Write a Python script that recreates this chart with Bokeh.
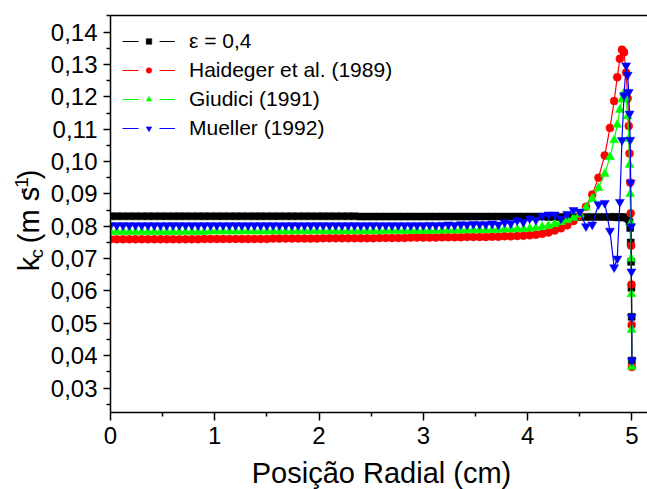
import math
from bokeh.plotting import figure
from bokeh.layouts import row, column
from bokeh.models import (FixedTicker, LinearAxis, Legend, LegendItem, Label, Range1d)
from bokeh.embed import file_html
from bokeh.resources import INLINE

FONT = "Liberation Sans"

# ---------------- data ----------------
x_cm = [0.00, 0.06, 0.12, 0.18, 0.24, 0.30, 0.36, 0.42, 0.48, 0.54,
        0.60, 0.66, 0.72, 0.78, 0.84, 0.90, 0.96, 1.02, 1.08, 1.14,
        1.20, 1.26, 1.32, 1.38, 1.44, 1.50, 1.56, 1.62, 1.68, 1.74,
        1.80, 1.86, 1.92, 1.98, 2.04, 2.10, 2.16, 2.22, 2.28, 2.34,
        2.40, 2.46, 2.52, 2.58, 2.64, 2.70, 2.76, 2.82, 2.88, 2.94,
        3.00, 3.06, 3.12, 3.18, 3.24, 3.30, 3.36, 3.42, 3.48, 3.54,
        3.60, 3.66, 3.72, 3.78, 3.84, 3.90, 3.96, 4.02, 4.08, 4.14,
        4.20, 4.26, 4.32, 4.38, 4.44, 4.50, 4.56, 4.62, 4.68,
        4.74, 4.79, 4.83, 4.86, 4.885, 4.905, 4.925, 4.945, 4.96, 4.97,
        4.978, 4.984, 4.989, 4.993, 4.996, 4.998, 5.00]

kc_eps04 = [0.0831, 0.0831, 0.0831, 0.0831, 0.0831, 0.0831, 0.0831, 0.0831, 0.0831, 0.0831,
            0.0831, 0.0831, 0.0831, 0.0831, 0.0831, 0.0831, 0.0831, 0.0831, 0.0831, 0.0831,
            0.0831, 0.0831, 0.0831, 0.0831, 0.0831, 0.0831, 0.0831, 0.0831, 0.0831, 0.0831,
            0.0831, 0.0831, 0.0831, 0.0831, 0.0831, 0.0831, 0.0831, 0.0831, 0.0831, 0.0831,
            0.0830, 0.0830, 0.0830, 0.0830, 0.0830, 0.0830, 0.0830, 0.0830, 0.0830, 0.0830,
            0.0830, 0.0830, 0.0830, 0.0830, 0.0830, 0.0830, 0.0830, 0.0830, 0.0830, 0.0830,
            0.0830, 0.0830, 0.0830, 0.0830, 0.0830, 0.0830, 0.0830, 0.0830, 0.0830, 0.0830,
            0.0829, 0.0829, 0.0829, 0.0829, 0.0829, 0.0829, 0.0829, 0.0829, 0.0829,
            0.0829, 0.0829, 0.0829, 0.0828, 0.0828, 0.0828, 0.0828, 0.0827, 0.0825, 0.0822,
            0.0812, 0.0795, 0.0750, 0.0690, 0.0610, 0.0520, 0.0385]

kc_haideger = [0.0760, 0.0760, 0.0760, 0.0760, 0.0760, 0.0760, 0.0760, 0.0760, 0.0760, 0.0760,
               0.0760, 0.0760, 0.0760, 0.0760, 0.0760, 0.0761, 0.0761, 0.0761, 0.0761, 0.0761,
               0.0761, 0.0761, 0.0761, 0.0761, 0.0761, 0.0761, 0.0762, 0.0762, 0.0762, 0.0762,
               0.0762, 0.0762, 0.0762, 0.0762, 0.0763, 0.0763, 0.0763, 0.0763, 0.0763, 0.0763,
               0.0763, 0.0763, 0.0763, 0.0764, 0.0764, 0.0764, 0.0764, 0.0764, 0.0765, 0.0765,
               0.0765, 0.0765, 0.0765, 0.0766, 0.0766, 0.0766, 0.0766, 0.0767, 0.0767, 0.0767,
               0.0767, 0.0768, 0.0768, 0.0769, 0.0769, 0.0770, 0.0771, 0.0772, 0.0774, 0.0777,
               0.0781, 0.0787, 0.0794, 0.0803, 0.0816, 0.0832, 0.0860, 0.0898, 0.0950,
               0.1019, 0.1104, 0.1187, 0.1261, 0.1318, 0.1346, 0.1338, 0.1275, 0.1195, 0.1110,
               0.1025, 0.0935, 0.0840, 0.0740, 0.0620, 0.0495, 0.0365]

kc_giudici = [0.0783, 0.0783, 0.0783, 0.0783, 0.0783, 0.0783, 0.0783, 0.0783, 0.0783, 0.0783,
              0.0783, 0.0783, 0.0783, 0.0783, 0.0783, 0.0783, 0.0784, 0.0784, 0.0784, 0.0784,
              0.0784, 0.0784, 0.0784, 0.0784, 0.0784, 0.0784, 0.0784, 0.0784, 0.0784, 0.0784,
              0.0785, 0.0785, 0.0785, 0.0785, 0.0785, 0.0785, 0.0785, 0.0785, 0.0785, 0.0785,
              0.0785, 0.0785, 0.0785, 0.0785, 0.0786, 0.0786, 0.0786, 0.0786, 0.0786, 0.0786,
              0.0786, 0.0786, 0.0786, 0.0787, 0.0787, 0.0787, 0.0787, 0.0788, 0.0788, 0.0788,
              0.0788, 0.0789, 0.0789, 0.0790, 0.0790, 0.0791, 0.0792, 0.0793, 0.0795, 0.0798,
              0.0802, 0.0807, 0.0813, 0.0819, 0.0826, 0.0836, 0.0858, 0.0885, 0.0918,
              0.0962, 0.1014, 0.1066, 0.1114, 0.1160, 0.1192, 0.1212, 0.1195, 0.1140, 0.1070,
              0.0990, 0.0900, 0.0810, 0.0700, 0.0590, 0.0480, 0.0365]

kc_mueller = [0.0803, 0.0803, 0.0803, 0.0803, 0.0803, 0.0803, 0.0803, 0.0803, 0.0803, 0.0803,
              0.0803, 0.0803, 0.0803, 0.0803, 0.0803, 0.0803, 0.0803, 0.0803, 0.0803, 0.0803,
              0.0803, 0.0803, 0.0803, 0.0803, 0.0803, 0.0803, 0.0803, 0.0803, 0.0803, 0.0803,
              0.0803, 0.0803, 0.0803, 0.0803, 0.0803, 0.0803, 0.0803, 0.0803, 0.0803, 0.0803,
              0.0803, 0.0803, 0.0803, 0.0803, 0.0803, 0.0803, 0.0803, 0.0803, 0.0803, 0.0803,
              0.0803, 0.0804, 0.0803, 0.0804, 0.0805, 0.0804, 0.0806, 0.0805, 0.0807, 0.0806,
              0.0806, 0.0808, 0.0805, 0.0812, 0.0809, 0.0818, 0.0813, 0.0824, 0.0820, 0.0832,
              0.0836, 0.0836, 0.0824, 0.0838, 0.0850, 0.0845, 0.0800, 0.0805, 0.0868,
              0.0872, 0.0786, 0.0673, 0.0700, 0.0875, 0.1066, 0.1205, 0.1297, 0.1268, 0.1215,
              0.1148, 0.1067, 0.0935, 0.0800, 0.0660, 0.0520, 0.0385]

series_names = ["\u03b5 = 0,4", "Haideger et al. (1989)", "Giudici (1991)", "Mueller (1992)"]
series_values = [kc_eps04, kc_haideger, kc_giudici, kc_mueller]

x_ticks = [0, 1, 2, 3, 4, 5]
x_minor_ticks = [0.5, 1.5, 2.5, 3.5, 4.5]
y_ticks = [0.03, 0.04, 0.05, 0.06, 0.07, 0.08, 0.09, 0.10, 0.11, 0.12, 0.13, 0.14]
y_tick_labels = ["0,03", "0,04", "0,05", "0,06", "0,07", "0,08", "0,09",
                 "0,10", "0,11", "0,12", "0,13", "0,14"]
y_minor_ticks = [0.025, 0.035, 0.045, 0.055, 0.065, 0.075, 0.085, 0.095,
                 0.105, 0.115, 0.125, 0.135, 0.145]

x_title = "Posição Radial (cm)"
y_title_parts = ["k", "c", "(m s", "-1", ")"]   # k_c (m s^-1)

# ---------------- styles ----------------
colors = ["#000000", "#ff0000", "#00ff00", "#0000ff"]
markers = ["square", "circle", "triangle", "inverted_triangle"]
sizes = [7, 8, 9, 9]

W, H = 647, 489
STRIP = 47          # left strip holding the y title
BOT = 34            # bottom strip holding the x title
HM = H - BOT        # height of main plot
X0, X1 = 0, 5.15
Y0, Y1 = 0.02244, 0.14515

p = figure(width=W - STRIP, height=HM, output_backend="svg", toolbar_location=None,
           x_range=Range1d(X0, X1), y_range=Range1d(Y0, Y1),
           min_border_left=108 - STRIP, min_border_right=0, min_border_top=15,
           min_border_bottom=HM - 412)
p.background_fill_color = "white"
p.border_fill_color = "white"
p.outline_line_color = None
p.xgrid.visible = False
p.ygrid.visible = False

items = []
for name, vals, c, m, s in zip(series_names, series_values, colors, markers, sizes):
    p.line(x_cm, vals, line_color=c, line_width=1.2)
    sr = p.scatter(x_cm, vals, marker=m, size=s, fill_color=c, line_color=c, line_width=0.5)
    # single-point line: draws nothing in the plot, gives the broken legend sample
    dummy = p.line(x_cm[:1], vals[:1], line_color=c, line_width=1.2, line_dash="16 21")
    items.append(LegendItem(label=name, renderers=[dummy, sr]))

legend = Legend(items=items, location="top_left", margin=12, padding=0,
                spacing=1, glyph_width=53, glyph_height=14, label_height=28,
                label_standoff=14, label_text_font=FONT, label_text_font_size="21px",
                label_text_color="black", background_fill_alpha=0,
                border_line_color=None)
p.add_layout(legend)

def style_axis(ax):
    ax.axis_line_width = 1.5
    ax.axis_line_color = "black"
    ax.major_tick_in = 0
    ax.major_tick_out = 8
    ax.minor_tick_in = 0
    ax.minor_tick_out = 4
    ax.major_tick_line_width = 1.5
    ax.minor_tick_line_width = 1.5
    ax.major_tick_line_color = "black"
    ax.minor_tick_line_color = "black"
    ax.major_label_text_font = FONT
    ax.major_label_text_font_size = "24px"
    ax.major_label_text_color = "black"

xa = p.xaxis[0]
style_axis(xa)
xa.ticker = FixedTicker(ticks=x_ticks, minor_ticks=x_minor_ticks)
xa.major_label_standoff = 6

ya = p.yaxis[0]
style_axis(ya)
ya.major_tick_out = 7
ya.ticker = FixedTicker(ticks=y_ticks, minor_ticks=y_minor_ticks)
ya.major_label_overrides = dict(zip(y_ticks, y_tick_labels))
ya.major_label_standoff = 6

top = LinearAxis(ticker=FixedTicker(ticks=[]), axis_line_width=1.5,
                 axis_line_color="black", major_tick_line_color=None,
                 minor_tick_line_color=None)
p.add_layout(top, "above")

def strip(width, height):
    f = figure(width=width, height=height, output_backend="svg", toolbar_location=None,
               x_range=Range1d(0, width), y_range=Range1d(0, height), min_border=0,
               x_axis_location=None, y_axis_location=None)
    f.outline_line_color = None
    f.background_fill_color = "white"
    f.border_fill_color = "white"
    f.xgrid.visible = False
    f.ygrid.visible = False
    return f

# ---- left strip: y-axis title k_c (m s^-1) as rotated text pieces ----
# anchors are the text centre lines (text_baseline="middle")
t = strip(STRIP, HM)
piece_pos = [(28, 293, "29px"), (35.5, 278.5, "19px"), (28, 261, "29px"),
             (20.5, 204.6, "19px"), (28, 187.7, "29px")]
for txt, (cx, cy, fs) in zip(y_title_parts, piece_pos):
    t.add_layout(Label(x=cx, y=HM - cy, text=txt, angle=math.pi / 2,
                       text_font=FONT, text_font_size=fs, text_color="black",
                       text_align="left", text_baseline="middle"))

# ---- bottom strip: x-axis title ----
b = strip(W, BOT)
b.add_layout(Label(x=381, y=BOT - (472 - HM), text=x_title, text_font=FONT,
                   text_font_size="29px", text_color="black",
                   text_align="center", text_baseline="middle"))

layout = column(row(t, p, spacing=0), b, spacing=0)
open("out.html", "w").write(file_html(layout, INLINE))
